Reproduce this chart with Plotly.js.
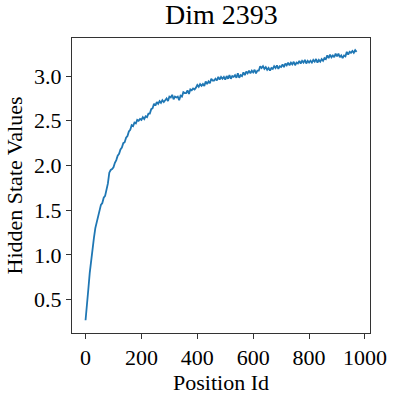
<!DOCTYPE html>
<html>
<head>
<meta charset="utf-8">
<script src="https://cdn.plot.ly/plotly-3.0.1.min.js"></script>
<style>
  html, body { margin: 0; padding: 0; background: #fff; }
  #chart { width: 399px; height: 399px; }
</style>
</head>
<body>
<div id="chart"></div>
<script>
const POSITION_STEP = 5;
const hiddenValues = [
  0.27, 0.50, 0.62, 0.80, 0.95, 1.11, 1.19, 1.30, 1.36, 1.44,
  1.50, 1.56, 1.58, 1.64, 1.66, 1.72, 1.80, 1.92, 1.95, 1.96,
  1.98, 2.03, 2.06, 2.11, 2.13, 2.18, 2.20, 2.25, 2.26, 2.31,
  2.33, 2.38, 2.40, 2.45, 2.44, 2.48, 2.47, 2.51, 2.50, 2.52,
  2.51, 2.54, 2.52, 2.55, 2.54, 2.58, 2.58, 2.63, 2.64, 2.69,
  2.67, 2.71, 2.69, 2.72, 2.70, 2.73, 2.71, 2.73, 2.75, 2.72,
  2.77, 2.76, 2.79, 2.74, 2.77, 2.76, 2.77, 2.73, 2.78, 2.77,
  2.82, 2.81, 2.81, 2.84, 2.80, 2.85, 2.84, 2.86, 2.85, 2.87,
  2.90, 2.88, 2.91, 2.89, 2.91, 2.89, 2.94, 2.91, 2.94, 2.92,
  2.97, 2.95, 2.95, 2.97, 2.95, 2.99, 2.96, 2.99, 2.97, 2.99,
  2.96, 3.00, 2.97, 3.01, 2.97, 3.00, 2.99, 3.01, 2.98, 3.03,
  2.98, 3.01, 3.00, 3.04, 3.01, 3.05, 3.03, 3.06, 3.03, 3.06,
  3.04, 3.07, 3.03, 3.06, 3.06, 3.11, 3.09, 3.11, 3.08, 3.10,
  3.07, 3.09, 3.06, 3.09, 3.08, 3.11, 3.09, 3.12, 3.08, 3.11,
  3.10, 3.13, 3.10, 3.14, 3.12, 3.15, 3.12, 3.15, 3.13, 3.16,
  3.12, 3.15, 3.14, 3.17, 3.14, 3.17, 3.15, 3.18, 3.14, 3.17,
  3.15, 3.17, 3.15, 3.18, 3.16, 3.19, 3.15, 3.18, 3.16, 3.19,
  3.17, 3.20, 3.19, 3.23, 3.20, 3.24, 3.21, 3.23, 3.21, 3.25,
  3.22, 3.25, 3.21, 3.23, 3.20, 3.23, 3.22, 3.27, 3.24, 3.27,
  3.26, 3.28, 3.26, 3.29, 3.27
];
const positionIds = hiddenValues.map((_, i) => i * POSITION_STEP);

const xTicks = [0, 200, 400, 600, 800, 1000];
const yTicks = [0.5, 1.0, 1.5, 2.0, 2.5, 3.0];

const SERIF = 'Liberation Serif, Times New Roman, serif';

const trace = {
  x: positionIds,
  y: hiddenValues,
  type: 'scatter',
  mode: 'lines',
  line: { color: '#1f77b4', width: 1.8 },
  hoverinfo: 'skip'
};

const axisCommon = {
  showline: true,
  mirror: true,
  linecolor: '#333',
  linewidth: 1,
  showgrid: false,
  zeroline: false,
  ticks: 'outside',
  ticklen: 5,
  tickwidth: 1,
  tickcolor: '#333',
  tickfont: { family: SERIF, size: 22, color: '#000' }
};

const layout = {
  width: 399,
  height: 399,
  paper_bgcolor: '#fff',
  plot_bgcolor: '#fff',
  margin: { l: 72, r: 29, t: 38, b: 66 },
  showlegend: false,
  title: {
    text: 'Dim 2393',
    font: { family: SERIF, size: 28, color: '#000' },
    x: 0.555, xanchor: 'center',
    y: 0.99, yanchor: 'top'
  },
  xaxis: {
    ...axisCommon,
    range: [-48.5, 1018],
    tickvals: xTicks,
    ticktext: xTicks.map(String),
    title: { text: 'Position Id', font: { family: SERIF, size: 22, color: '#000' }, standoff: 2 }
  },
  yaxis: {
    ...axisCommon,
    range: [0.128, 3.425],
    tickvals: yTicks,
    ticktext: yTicks.map(v => v.toFixed(1)),
    title: { text: 'Hidden State Values', font: { family: SERIF, size: 22, color: '#000' }, standoff: 5 }
  }
};

Plotly.newPlot('chart', [trace], layout, { staticPlot: true, displayModeBar: false });
</script>
</body>
</html>
